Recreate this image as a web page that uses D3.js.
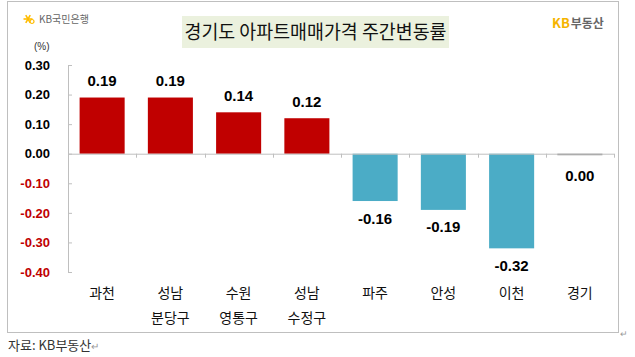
<!DOCTYPE html>
<html><head><meta charset="utf-8">
<script src="https://cdn.jsdelivr.net/npm/d3@7"></script>
<style>
html,body{margin:0;padding:0;background:#fff;}
svg{display:block;}
</style></head>
<body>
<svg id="chart" width="635" height="357"></svg>
<script>
const title = "경기도 아파트매매가격 주간변동률";
const categories = ["과천", "성남\n분당구", "수원\n영통구", "성남\n수정구", "파주", "안성", "이천", "경기"];
const values = [0.19, 0.19, 0.14, 0.12, -0.16, -0.19, -0.32, 0.00];
const tickValues = [0.30, 0.20, 0.10, 0.00, -0.10, -0.20, -0.30, -0.40];
const unitLabel = "(%)";
const sourceLabel = "자료: KB부동산";

const svg = d3.select("#chart");
const KR = "'Noto Sans CJK KR','Noto Sans',sans-serif";
const LAT = "'Liberation Sans',Arial,sans-serif";
const fmt = d3.formatLocale({decimal: ".", thousands: ",", grouping: [3], currency: ["", ""], minus: "-"}).format(".2f");

// outer frame
svg.append("rect").attr("x", 7.5).attr("y", 1.5).attr("width", 611).attr("height", 331)
  .attr("fill", "none").attr("stroke", "#BFBFBF").attr("stroke-width", 1);

// title box
svg.append("rect").attr("x", 182).attr("y", 16).attr("width", 267).attr("height", 32).attr("fill", "#EBF1DE");
svg.append("text").attr("x", 315.5).attr("y", 39).attr("text-anchor", "middle")
  .attr("font-family", KR).attr("font-size", 19).attr("fill", "#111")
  .attr("textLength", 262).attr("lengthAdjust", "spacingAndGlyphs").text(title);

// KB국민은행 logo
const logo = svg.append("g").attr("transform", "translate(28,19)");
[0, 60, 120].forEach(a => {
  const r = 4.5, t = a * Math.PI / 180;
  logo.append("line").attr("x1", -r * Math.cos(t)).attr("y1", -r * Math.sin(t))
    .attr("x2", r * Math.cos(t)).attr("y2", r * Math.sin(t))
    .attr("stroke", "#FFBC00").attr("stroke-width", 1.6);
});
logo.append("circle").attr("cx", 4).attr("cy", 2.5).attr("r", 2).attr("fill", "none").attr("stroke", "#FFBC00").attr("stroke-width", 1.2);
svg.append("text").attr("x", 39).attr("y", 23).attr("font-family", KR).attr("font-size", 10)
  .attr("fill", "#666").text("KB국민은행");

// KB부동산 logo
const kb = svg.append("text").attr("x", 552).attr("y", 28).attr("font-family", KR).attr("font-weight", "bold");
kb.append("tspan").attr("fill", "#F5B400").attr("font-size", 13).text("KB");
kb.append("tspan").attr("fill", "#666").attr("font-size", 12).attr("dx", 1).text("부동산");

// unit
svg.append("text").attr("x", 34).attr("y", 50).attr("font-family", LAT).attr("font-size", 10)
  .attr("fill", "#333").text(unitLabel);

// scales
const y = d3.scaleLinear().domain([-0.4, 0.3]).range([272, 65]);
const x = d3.scaleBand().domain(categories).range([68, 614]).paddingInner(0.34).paddingOuter(0.17);

// y axis
const yAxis = svg.append("g").attr("transform", "translate(68,0)")
  .call(d3.axisLeft(y).tickValues(tickValues).tickSize(-4).tickSizeOuter(0).tickPadding(18).tickFormat(fmt));
yAxis.select(".domain").attr("stroke", "#BFBFBF");
yAxis.selectAll(".tick line").attr("stroke", "#BFBFBF");
yAxis.selectAll(".tick text").attr("font-family", LAT).attr("font-size", 13).attr("font-weight", "bold")
  .attr("fill", d => d < 0 ? "#C00000" : "#000");

// bars
const colorOf = v => v > 0 ? "#C00000" : (v < 0 ? "#4BACC6" : "#7F7F7F");
svg.append("g").selectAll("rect").data(values).join("rect")
  .attr("x", (d, i) => x(categories[i]))
  .attr("width", x.bandwidth())
  .attr("y", d => d === 0 ? y(0) : y(Math.max(d, 0)))
  .attr("height", d => d === 0 ? 1.5 : Math.abs(y(d) - y(0)))
  .attr("fill", d => colorOf(d));

// x axis line at zero
const x0 = svg.append("g");
x0.append("line").attr("x1", 68).attr("x2", 614).attr("y1", y(0) + 0.5).attr("y2", y(0) + 0.5)
  .attr("stroke", "#BFBFBF");
const boundaries = categories.slice(1).map(c => x(c) - (x.step() - x.bandwidth()) / 2).concat([614]);
x0.selectAll(".bt").data(boundaries).join("line").attr("class", "bt")
  .attr("x1", d => Math.round(d) + 0.5).attr("x2", d => Math.round(d) + 0.5)
  .attr("y1", y(0)).attr("y2", y(0) + 4).attr("stroke", "#BFBFBF");

// value labels
svg.append("g").selectAll("text").data(values).join("text")
  .attr("x", (d, i) => x(categories[i]) + x.bandwidth() / 2)
  .attr("y", d => d > 0 ? y(d) - 11.5 : y(d) + (d === 0 ? 27 : 22.5))
  .attr("text-anchor", "middle").attr("font-family", LAT).attr("font-size", 15).attr("font-weight", "bold")
  .attr("fill", "#000").text(d => fmt(d));

// category labels
const cl = svg.append("g").selectAll("text").data(categories).join("text")
  .attr("x", c => x(c) + x.bandwidth() / 2).attr("y", 298)
  .attr("text-anchor", "middle").attr("font-family", KR).attr("font-size", 14).attr("fill", "#111");
cl.each(function(c) {
  const t = d3.select(this);
  c.split("\n").forEach((line, k) => {
    t.append("tspan").attr("x", x(c) + x.bandwidth() / 2).attr("dy", k === 0 ? 0 : 25).text(line);
  });
});

// source
svg.append("text").attr("x", 8).attr("y", 350).attr("font-family", KR).attr("font-size", 13)
  .attr("fill", "#333").text(sourceLabel)
  .append("tspan").attr("fill", "#999").attr("font-size", 10).text("↵");
svg.append("text").attr("x", 620).attr("y", 337).attr("font-family", KR).attr("font-size", 9)
  .attr("fill", "#999").text("↵");
</script>
</body></html>
